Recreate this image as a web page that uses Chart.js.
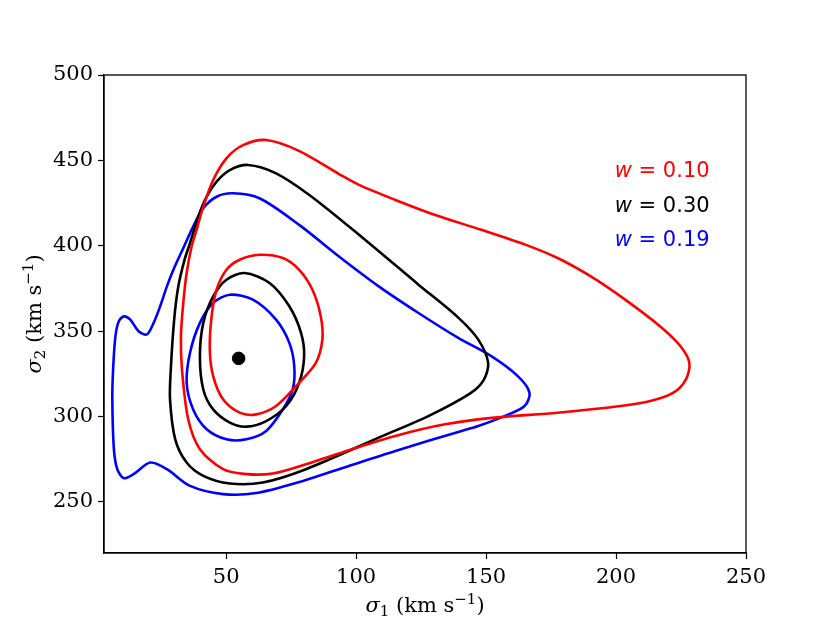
<!DOCTYPE html>
<html>
<head>
<meta charset="utf-8">
<script src="https://cdn.jsdelivr.net/npm/chart.js@4.4.1/dist/chart.umd.min.js"></script>
<style>
  html, body { margin: 0; padding: 0; background: #fff; }
  #wrap { width: 830px; height: 623px; }
</style>
</head>
<body>
<div id="wrap"><canvas id="contourChart"></canvas></div>
<script>
// ---------------- data: [sigma1, sigma2] in km/s ----------------
const xTicks = [50, 100, 150, 200, 250];
const yTicks = [250, 300, 350, 400, 450, 500];

// w = 0.10 (red)
const redOuter = [
  [65.4, 461.9], [56.5, 458.9], [50.1, 451.2], [45.0, 438.5], [41.2, 422.9], [38.6, 409.3],
  [36.7, 399.5], [34.8, 384.0], [33.5, 366.5], [32.6, 347.0], [33.0, 327.5], [35.4, 298.3],
  [39.9, 280.8], [48.8, 269.1], [57.8, 266.2], [67.9, 266.6], [80.7, 272.0], [97.2, 280.2],
  [115.1, 288.6], [134.2, 295.4], [153.3, 299.3], [177.5, 302.2], [201.7, 306.1], [213.2, 309.0],
  [222.1, 313.9], [226.9, 321.7], [228.2, 331.4], [224.8, 341.1], [216.9, 352.8], [203.5, 368.4],
  [190.3, 382.0], [177.5, 392.8], [165.3, 400.5], [148.2, 409.3], [130.4, 418.0], [115.1, 426.8],
  [101.1, 435.6], [93.4, 442.0], [77.8, 455.7]
];
const redInner = [
  [62.8, 394.7], [55.2, 391.8], [50.1, 385.9], [46.3, 374.2], [44.4, 358.6], [43.7, 339.2],
  [45.0, 323.6], [48.8, 310.0], [55.2, 302.2], [61.6, 301.2], [69.2, 306.1], [76.9, 317.8],
  [84.5, 331.4], [87.0, 345.0], [86.4, 358.6], [83.2, 374.2], [78.1, 385.9], [71.8, 392.8]
];

// w = 0.30 (black)
const blackOuter = [
  [58.4, 447.3], [51.4, 444.3], [46.3, 437.5], [42.5, 428.7], [39.3, 417.1], [36.1, 401.5],
  [34.0, 391.8], [31.6, 376.2], [30.0, 356.7], [28.7, 327.5], [28.4, 310.0], [30.4, 286.6],
  [34.8, 273.0], [41.2, 265.2], [51.4, 260.7], [64.1, 261.3], [80.7, 269.1], [108.7, 287.6],
  [127.8, 300.2], [143.9, 313.5], [149.0, 321.1], [150.8, 331.4], [147.0, 345.0], [139.3, 357.9],
  [124.0, 377.2], [101.1, 406.4], [82.0, 429.7], [69.2, 442.4]
];
const blackInner = [
  [57.1, 384.0], [50.1, 380.1], [45.0, 370.3], [41.2, 354.8], [39.9, 335.3], [41.2, 315.8],
  [45.0, 304.1], [51.4, 296.4], [57.8, 294.0], [65.4, 297.3], [73.1, 306.1], [78.1, 319.7],
  [80.0, 335.3], [78.8, 349.0], [74.3, 364.5], [66.7, 378.2]
];

// w = 0.19 (blue)
const blueOuter = [
  [52.6, 430.7], [46.3, 428.7], [41.2, 422.0], [37.3, 411.2], [33.5, 398.6], [29.7, 385.9],
  [27.2, 376.2], [24.6, 364.5], [22.1, 354.8], [19.5, 348.0], [16.3, 349.9], [13.1, 356.7],
  [10.6, 358.6], [8.7, 355.7], [7.4, 347.0], [6.5, 327.5], [6.2, 310.0], [6.8, 280.8],
  [8.1, 269.1], [10.6, 263.8], [14.4, 266.2], [20.8, 273.0], [27.2, 269.1], [36.1, 259.3],
  [48.8, 254.5], [61.6, 255.1], [79.3, 262.1], [97.2, 271.0], [115.1, 279.8], [140.6, 291.5],
  [147.0, 294.4], [157.1, 300.2], [164.8, 306.1], [166.7, 313.9], [162.2, 323.6], [152.0, 335.3],
  [139.3, 346.0], [124.0, 360.6], [108.7, 376.2], [93.4, 393.7], [78.1, 412.2], [62.8, 427.8]
];
const blueInner = [
  [51.4, 371.3], [45.0, 366.5], [39.9, 354.8], [36.1, 337.3], [34.8, 319.7], [37.3, 304.1],
  [42.5, 292.5], [50.1, 286.6], [57.8, 286.6], [65.4, 291.5], [71.8, 304.1], [75.6, 315.8],
  [76.2, 329.4], [74.3, 343.1], [69.2, 356.7], [60.3, 368.4]
];

const bestFit = [[54.8, 334.0]];

const labelValues = ["0.10", "0.30", "0.19"];
const labelColors = ["#ff0000", "#000000", "#0000ff"];
const labelX = 199.5;
const labelY = [440, 420, 400];

const xTitle = [["σ", "italic"], ["1", "sub"], [" (km s", ""], ["−1", "sup"], [")", ""]];
const yTitle = [["σ", "italic"], ["2", "sub"], [" (km s", ""], ["−1", "sup"], [")", ""]];

// ---------------- helpers ----------------

// wrap the contour so the spline closes smoothly; the two extra end segments are hidden
function loopData(pts) {
  const n = pts.length;
  const seq = [pts[n - 1], ...pts, pts[0], pts[1]];
  return seq.map((p) => ({ x: p[0], y: p[1] }));
}

function contourSet(pts, color) {
  const data = loopData(pts);
  const last = data.length - 1;
  return {
    data: data,
    showLine: true,
    borderColor: color,
    borderWidth: 2.6,
    pointRadius: 0,
    pointHoverRadius: 0,
    tension: 0.3,
    fill: false,
    segment: {
      borderColor: (ctx) =>
        ctx.p0DataIndex === 0 || ctx.p1DataIndex === last ? "rgba(0,0,0,0)" : undefined,
    },
  };
}

// axis title with italic sigma, subscript and superscript
function drawTitle(ctx, parts, cx, cy, rot) {
  const big = 21, small = 15;
  const fontOf = (kind) =>
    kind === "italic" ? `italic ${big}px 'DejaVu Serif'` :
    kind === "sub" || kind === "sup" ? `${small}px 'DejaVu Serif'` : `${big}px 'DejaVu Serif'`;
  let total = 0;
  parts.forEach(([t, k]) => { ctx.font = fontOf(k); total += ctx.measureText(t).width; });
  ctx.save();
  ctx.translate(cx, cy);
  ctx.rotate(rot);
  ctx.fillStyle = "#000";
  ctx.textBaseline = "alphabetic";
  ctx.textAlign = "left";
  let x = -total / 2;
  const base = 6;
  parts.forEach(([t, k]) => {
    ctx.font = fontOf(k);
    const dy = k === "sub" ? 4 : k === "sup" ? -8 : 0;
    ctx.fillText(t, x, base + dy);
    x += ctx.measureText(t).width;
  });
  ctx.restore();
}

// frame on top/right, axis titles, and the w labels
const framePlugin = {
  id: "frameAndLabels",
  afterDraw(chart) {
    const { ctx, chartArea, scales } = chart;
    ctx.save();
    ctx.strokeStyle = "#000";
    ctx.lineWidth = 1.3;
    ctx.strokeRect(chartArea.left, chartArea.top, chartArea.right - chartArea.left, chartArea.bottom - chartArea.top);

    const midX = (chartArea.left + chartArea.right) / 2;
    const midY = (chartArea.top + chartArea.bottom) / 2;
    drawTitle(ctx, xTitle, midX, 606, 0);
    drawTitle(ctx, yTitle, 35, midY, -Math.PI / 2);

    ctx.textBaseline = "alphabetic";
    ctx.textAlign = "left";
    for (let i = 0; i < labelValues.length; i++) {
      let px = scales.x.getPixelForValue(labelX);
      const py = scales.y.getPixelForValue(labelY[i]);
      ctx.fillStyle = labelColors[i];
      ctx.font = "italic 21px 'DejaVu Sans'";
      ctx.fillText("w", px, py);
      px += ctx.measureText("w").width;
      ctx.font = "21px 'DejaVu Sans'";
      ctx.fillText(" = " + labelValues[i], px, py);
    }
    ctx.restore();
  },
};

// ---------------- chart ----------------

const tickFont = { family: "'DejaVu Serif'", size: 21 };

const ctx = document.querySelector("#contourChart").getContext("2d");
const chart = new Chart(ctx, {
  type: "scatter",
  data: {
    datasets: [
      {
        data: bestFit.map((p) => ({ x: p[0], y: p[1] })),
        backgroundColor: "#000",
        borderColor: "#000",
        pointRadius: 6.3,
        pointHoverRadius: 6.3,
      },
      contourSet(redOuter, "#ff0000"),
      contourSet(redInner, "#ff0000"),
      contourSet(blackOuter, "#000000"),
      contourSet(blackInner, "#000000"),
      contourSet(blueOuter, "#0000ff"),
      contourSet(blueInner, "#0000ff"),
    ],
  },
  options: {
    responsive: true,
    maintainAspectRatio: false,
    animation: false,
    events: [],
    layout: { padding: { left: 0, right: 84, top: 75, bottom: 0 } },
    plugins: { legend: { display: false }, tooltip: { enabled: false } },
    scales: {
      x: {
        type: "linear",
        min: 3,
        max: 250,
        afterBuildTicks: (scale) => { scale.ticks = xTicks.map((v) => ({ value: v })); },
        afterFit: (scale) => { scale.height = 70; },
        grid: { drawOnChartArea: false, drawTicks: true, tickLength: 6, tickColor: "#000", tickWidth: 1.2 },
        border: { display: true, color: "#000", width: 1.3 },
        ticks: { color: "#000", font: tickFont, padding: 6, maxRotation: 0 },
      },
      y: {
        type: "linear",
        min: 220,
        max: 500,
        afterBuildTicks: (scale) => { scale.ticks = yTicks.map((v) => ({ value: v })); },
        afterFit: (scale) => { scale.width = 104; },
        grid: { drawOnChartArea: false, drawTicks: true, tickLength: 6, tickColor: "#000", tickWidth: 1.2 },
        border: { display: true, color: "#000", width: 1.3 },
        ticks: { color: "#000", font: tickFont, padding: 5 },
      },
    },
  },
  plugins: [framePlugin],
});
</script>
</body>
</html>
